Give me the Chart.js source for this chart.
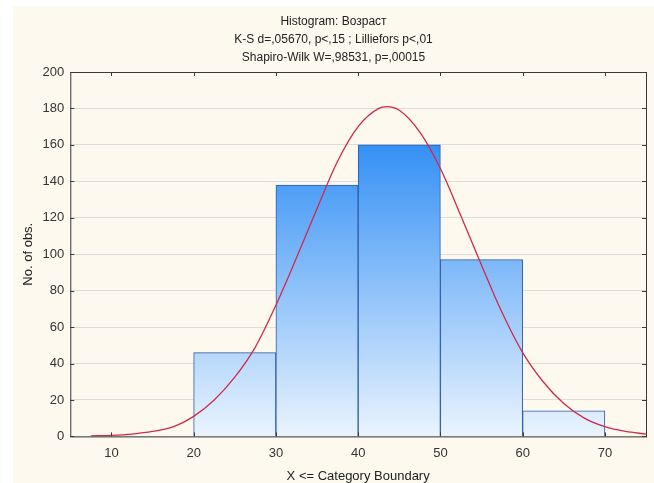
<!DOCTYPE html>
<html lang="ru">
<head>
    <meta charset="UTF-8">
    <title>Histogram: Возраст</title>
    <script src="https://cdn.jsdelivr.net/npm/chart.js@4.4.1/dist/chart.umd.min.js"></script>
    <style>
        html, body {
            margin: 0;
            padding: 0;
            background: #ffffff;
        }
        .panel {
            position: absolute;
            left: 13px;
            top: 6px;
            width: 641px;
            height: 477px;
            background: #fdf9ef;
        }
        .chart-box {
            position: absolute;
            left: 0;
            top: 0;
            width: 654px;
            height: 483px;
        }
    </style>
</head>
<body>
    <div class="panel"></div>
    <div class="chart-box">
        <canvas id="histChart" width="654" height="483"></canvas>
    </div>

    <script>
        // histogram bins (upper boundaries at 30..70), centres used for drawing
        const binCenters = [25, 35, 45, 55, 65];
        const binCounts = [46, 138, 160, 97, 14];

        // expected normal curve
        const curveX = [7.5, 10, 12.5, 15, 17.5, 20, 22.5, 25, 27.5, 30, 32.5, 35, 37.5, 40, 42.5, 43.5, 45, 47.5, 50, 52.5, 55, 57.5, 60, 62.5, 65, 67.5, 70, 72.5, 75];
        const curveY = [0.3, 0.6, 1.3, 2.7, 5.2, 11, 20, 32.5, 49, 72, 98, 125, 151, 170, 180, 181, 179, 167, 147, 121, 94, 68, 46, 30, 18, 10, 5.3, 2.7, 1.3];

        const xTicks = [10, 20, 30, 40, 50, 60, 70];
        const yTicks = [0, 20, 40, 60, 80, 100, 120, 140, 160, 180, 200];

        const titleLines = ['Histogram: Возраст', 'K-S d=,05670, p<,15 ; Lilliefors p<,01', 'Shapiro-Wilk W=,98531, p=,00015'];

        const barData = binCenters.map((x, i) => ({ x: x, y: binCounts[i] }));
        const curveData = curveX.map((x, i) => ({ x: x, y: curveY[i] }));

        // frame with inward tick marks on all four sides
        const framePlugin = {
            id: 'frame',
            afterDatasetsDraw(chart) {
                const { ctx, chartArea: a, scales } = chart;
                ctx.save();
                ctx.strokeStyle = '#3a3a3a';
                ctx.lineWidth = 1;
                ctx.strokeRect(a.left + 0.5, a.top + 0.5, a.right - a.left, a.bottom - a.top);
                ctx.beginPath();
                xTicks.forEach(v => {
                    const px = Math.round(scales.x.getPixelForValue(v)) + 0.5;
                    ctx.moveTo(px, a.top);
                    ctx.lineTo(px, a.top + 4);
                    ctx.moveTo(px, a.bottom);
                    ctx.lineTo(px, a.bottom - 4);
                });
                yTicks.forEach(v => {
                    const py = Math.round(scales.y.getPixelForValue(v)) + 0.5;
                    ctx.moveTo(a.right, py);
                    ctx.lineTo(a.right - 4, py);
                    ctx.moveTo(a.left, py);
                    ctx.lineTo(a.left + 4, py);
                });
                ctx.stroke();
                ctx.restore();
            }
        };

        const ctx = document.getElementById('histChart');
        new Chart(ctx, {
            type: 'bar',
            data: {
                datasets: [{
                    type: 'line',
                    label: 'Normal',
                    data: curveData,
                    borderColor: '#cc2b4c',
                    borderWidth: 1.3,
                    pointRadius: 0,
                    cubicInterpolationMode: 'monotone',
                    fill: false,
                    order: 0
                }, {
                    type: 'bar',
                    label: 'Возраст',
                    data: barData,
                    backgroundColor: function(context) {
                        const chart = context.chart;
                        const area = chart.chartArea;
                        if (!area) return '#8fc2f6';
                        const yScale = chart.scales.y;
                        const g = chart.ctx.createLinearGradient(0, yScale.getPixelForValue(165), 0, area.bottom);
                        g.addColorStop(0, '#2f8df5');
                        g.addColorStop(1, '#eaf4fe');
                        return g;
                    },
                    borderColor: '#2d5ba5',
                    borderWidth: 1,
                    barPercentage: 1,
                    categoryPercentage: 1,
                    order: 1
                }]
            },
            options: {
                responsive: false,
                animation: false,
                layout: {
                    padding: { left: 21, right: 8, top: 0, bottom: 0 }
                },
                plugins: {
                    legend: { display: false },
                    tooltip: { enabled: false },
                    title: {
                        display: true,
                        text: titleLines,
                        color: '#222222',
                        font: { family: 'Liberation Sans, Arial, sans-serif', size: 12, weight: 'normal', lineHeight: 1.5 },
                        padding: { top: 13, bottom: 5 }
                    }
                },
                scales: {
                    x: {
                        type: 'linear',
                        min: 5,
                        max: 75,
                        offset: false,
                        afterBuildTicks: axis => { axis.ticks = xTicks.map(v => ({ value: v })); },
                        ticks: {
                            color: '#333333',
                            padding: 9,
                            font: { family: 'Liberation Sans, Arial, sans-serif', size: 13 }
                        },
                        grid: { display: false, drawTicks: false },
                        border: { display: false },
                        title: {
                            display: true,
                            text: 'X <= Category Boundary',
                            color: '#222222',
                            font: { family: 'Liberation Sans, Arial, sans-serif', size: 13, lineHeight: 1 },
                            padding: { top: 0, bottom: 0 }
                        }
                    },
                    y: {
                        min: 0,
                        max: 200,
                        afterBuildTicks: axis => { axis.ticks = yTicks.map(v => ({ value: v })); },
                        ticks: {
                            color: '#333333',
                            padding: 6,
                            font: { family: 'Liberation Sans, Arial, sans-serif', size: 13 }
                        },
                        grid: { color: '#dddddd', drawTicks: false },
                        border: { display: false },
                        title: {
                            display: true,
                            text: 'No. of obs.',
                            color: '#222222',
                            font: { family: 'Liberation Sans, Arial, sans-serif', size: 13 },
                            padding: { top: 0, bottom: 0 }
                        }
                    }
                }
            },
            plugins: [framePlugin]
        });
    </script>
</body>
</html>
